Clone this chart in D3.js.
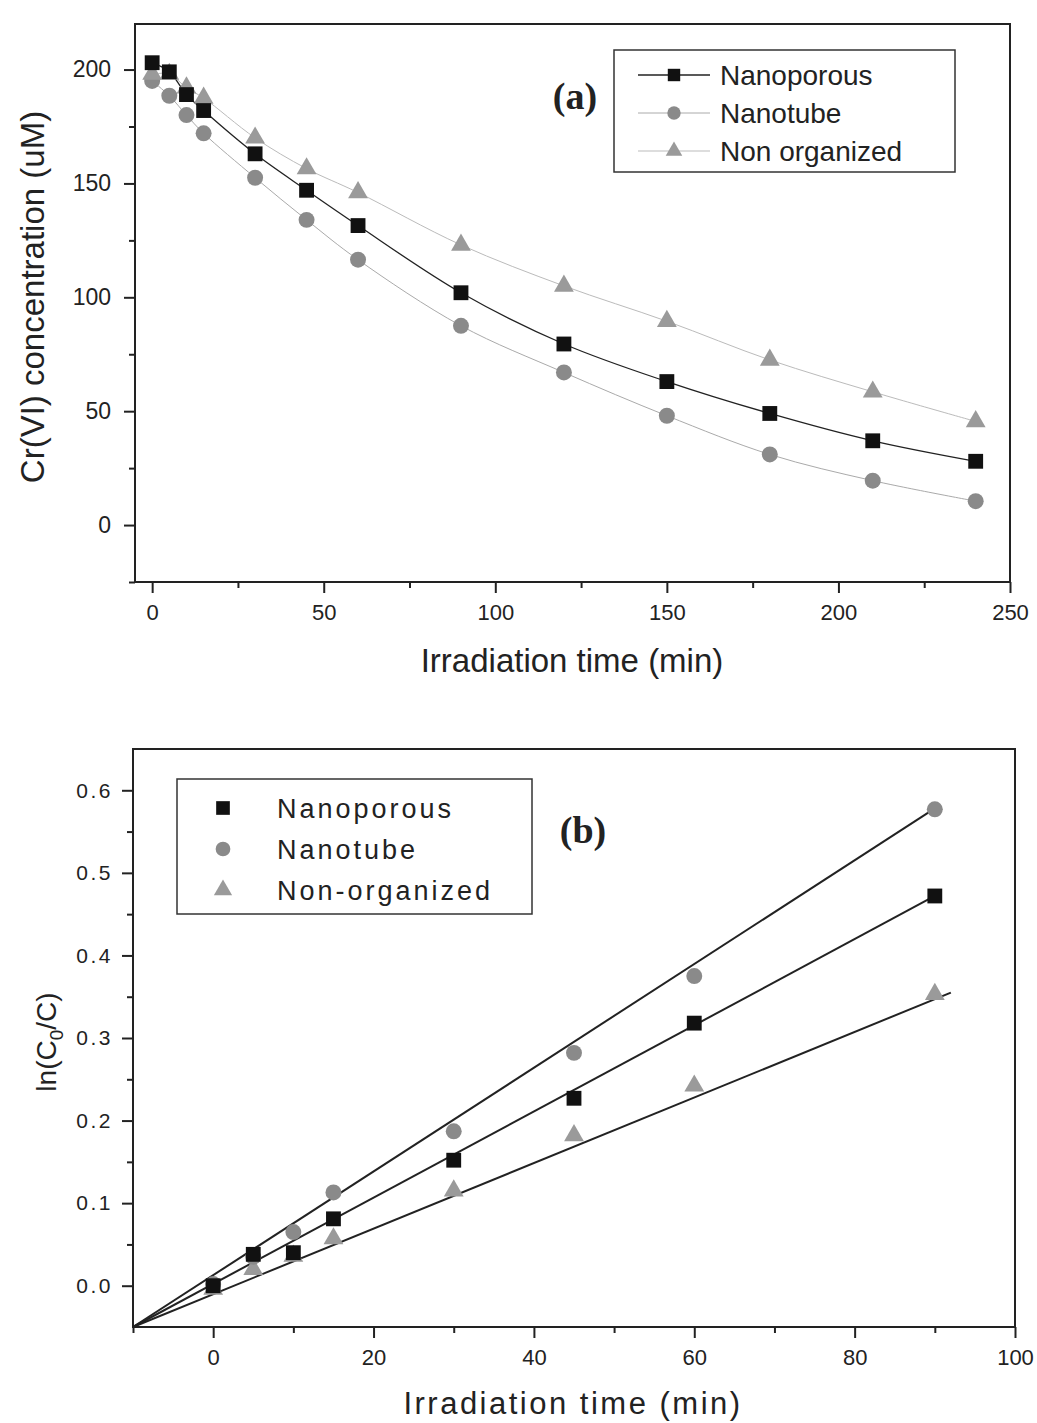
<!DOCTYPE html>
<html>
<head>
<meta charset="utf-8">
<script src="https://cdn.jsdelivr.net/npm/d3@7"></script>
<style>
  body { margin: 0; background: #fff; }
  svg { display: block; }
  .tick text { font-family: "Liberation Sans", Arial, sans-serif; }
</style>
</head>
<body>
<div id="chart"></div>
<script>
// Series names
const seriesNames = ["Nanoporous", "Nanotube", "Non organized"];
const seriesNamesB = ["Nanoporous", "Nanotube", "Non-organized"];

// Panel (a): Cr(VI) concentration vs time
const timeA = [0, 5, 10, 15, 30, 45, 60, 90, 120, 150, 180, 210, 240];
const nanoporousA = [203, 199, 189, 182, 163, 147, 131.5, 102, 79.5, 63, 49, 37, 28];
const nanotubeA = [195, 188.5, 180, 172, 152.5, 134, 116.5, 87.5, 67, 48, 31, 19.5, 10.5];
const nonOrganizedA = [198, 198, 192, 187.5, 170, 156.5, 146, 123, 105, 89.5, 72.5, 58.5, 45.5];

// Panel (b): ln(C0/C) vs time with linear fits
const timeB = [0, 5, 10, 15, 30, 45, 60, 90];
const nanoporousB = [0.0, 0.038, 0.04, 0.081, 0.152, 0.227, 0.318, 0.472];
const nanotubeB = [0.002, 0.035, 0.065, 0.113, 0.187, 0.282, 0.375, 0.577];
const nonOrganizedB = [-0.004, 0.02, 0.036, 0.057, 0.115, 0.182, 0.242, 0.353];
// fit line end points [x0, y0, x1, y1]
const fitNanoporous = [-10, -0.05, 90, 0.472];
const fitNanotube = [-10, -0.05, 90, 0.578];
const fitNonOrganized = [-10, -0.05, 92, 0.355];

// Tick values
const xTicksA = [0, 50, 100, 150, 200, 250];
const xMinorA = [25, 75, 125, 175, 225];
const yTicksA = [0, 50, 100, 150, 200];
const yMinorA = [-25, 25, 75, 125, 175];
const xTicksB = [0, 20, 40, 60, 80, 100];
const xMinorB = [-10, 10, 30, 50, 70, 90];
const yTicksB = [0, 0.1, 0.2, 0.3, 0.4, 0.5, 0.6];
const yMinorB = [0.05, 0.15, 0.25, 0.35, 0.45, 0.55];

const width = 1037;
const height = 1423;

const svg = d3.select("#chart")
  .append("svg")
  .attr("width", width)
  .attr("height", height);

const styles = [
  { symbol: d3.symbolSquare, size: 220, fill: "#111", line: "#222", lineWidth: 1.3 },
  { symbol: d3.symbolCircle, size: 200, fill: "#8a8a8a", line: "#aaa", lineWidth: 1 },
  { symbol: d3.symbolTriangle, size: 170, fill: "#9a9a9a", line: "#bbb", lineWidth: 1 },
];

// Draw the frame, ticks and labels of a panel
function drawAxes(g, x, y, opts) {
  const [x0, x1] = x.range();
  const [y0, y1] = y.range();

  g.append("rect")
    .attr("x", x0).attr("y", y1)
    .attr("width", x1 - x0).attr("height", y0 - y1)
    .attr("fill", "none").attr("stroke", "#222").attr("stroke-width", 2);

  const xAxis = g.append("g")
    .attr("transform", `translate(0,${y0})`)
    .call(d3.axisBottom(x).tickValues(opts.xTicks).tickSize(11).tickPadding(11).tickFormat(d3.format("d")));
  g.append("g")
    .attr("transform", `translate(0,${y0})`)
    .call(d3.axisBottom(x).tickValues(opts.xMinor).tickSize(6).tickFormat(""));

  const yAxis = g.append("g")
    .attr("transform", `translate(${x0},0)`)
    .call(d3.axisLeft(y).tickValues(opts.yTicks).tickSize(11).tickPadding(opts.yPad).tickFormat(opts.yFormat));
  g.append("g")
    .attr("transform", `translate(${x0},0)`)
    .call(d3.axisLeft(y).tickValues(opts.yMinor).tickSize(6).tickFormat(""));

  g.selectAll(".domain").remove();
  g.selectAll(".tick line").attr("stroke", "#222").attr("stroke-width", 2);

  xAxis.selectAll("text")
    .attr("font-size", opts.xFontSize)
    .attr("fill", "#222");
  yAxis.selectAll("text")
    .attr("font-size", opts.yFontSize)
    .attr("letter-spacing", opts.letterSpacing)
    .attr("fill", "#222");
}

// Draw markers for one series
function drawMarkers(g, x, y, xs, ys, st) {
  g.append("g")
    .selectAll("path")
    .data(xs.map((d, i) => [d, ys[i]]))
    .join("path")
    .attr("transform", (d) => `translate(${x(d[0])},${y(d[1])})`)
    .attr("d", d3.symbol().type(st.symbol).size(st.size))
    .attr("fill", st.fill);
}

// ---------- Panel (a) ----------
const xA = d3.scaleLinear().domain([-5, 250]).range([135, 1010]);
const yA = d3.scaleLinear().domain([-25, 220]).range([582, 24]);
const gA = svg.append("g");

drawAxes(gA, xA, yA, {
  xTicks: xTicksA, xMinor: xMinorA, yTicks: yTicksA, yMinor: yMinorA,
  yFormat: d3.format("d"), xFontSize: 22, yFontSize: 23, yPad: 13,
  letterSpacing: 0,
});

const seriesA = [nanoporousA, nanotubeA, nonOrganizedA];
const lineA = d3.line().x((d) => xA(d[0])).y((d) => yA(d[1])).curve(d3.curveCatmullRom);

// lines go under all markers, darker series last
[2, 1, 0].forEach((i) => {
  gA.append("path")
    .datum(timeA.map((t, k) => [t, seriesA[i][k]]))
    .attr("d", lineA)
    .attr("fill", "none")
    .attr("stroke", styles[i].line)
    .attr("stroke-width", styles[i].lineWidth);
});
drawMarkers(gA, xA, yA, timeA, nanotubeA, styles[1]);
drawMarkers(gA, xA, yA, timeA, nonOrganizedA, styles[2]);
drawMarkers(gA, xA, yA, timeA, nanoporousA, styles[0]);

// legend (a)
const legA = gA.append("g").attr("transform", "translate(614,50)");
legA.append("rect")
  .attr("width", 341).attr("height", 122)
  .attr("fill", "#fff").attr("stroke", "#333").attr("stroke-width", 1.5);
seriesNames.forEach((name, i) => {
  const yy = 25 + i * 38;
  legA.append("line")
    .attr("x1", 24).attr("x2", 96).attr("y1", yy).attr("y2", yy)
    .attr("stroke", styles[i].line).attr("stroke-width", styles[i].lineWidth);
  legA.append("path")
    .attr("transform", `translate(60,${yy})`)
    .attr("d", d3.symbol().type(styles[i].symbol).size(styles[i].size * 0.7))
    .attr("fill", styles[i].fill);
  legA.append("text")
    .attr("x", 106).attr("y", yy + 10)
    .attr("font-family", "'Liberation Sans', Arial, sans-serif")
    .attr("font-size", 28).attr("fill", "#222")
    .text(name);
});

gA.append("text")
  .attr("x", 575).attr("y", 109)
  .attr("text-anchor", "middle")
  .attr("font-family", "'Liberation Serif', 'Times New Roman', serif")
  .attr("font-weight", "bold").attr("font-size", 38).attr("fill", "#222")
  .text("(a)");

gA.append("text")
  .attr("x", 572).attr("y", 672)
  .attr("text-anchor", "middle")
  .attr("font-family", "'Liberation Sans', Arial, sans-serif")
  .attr("font-size", 33).attr("fill", "#222")
  .text("Irradiation time (min)");

gA.append("text")
  .attr("transform", "translate(44,297) rotate(-90)")
  .attr("text-anchor", "middle")
  .attr("font-family", "'Liberation Sans', Arial, sans-serif")
  .attr("font-size", 33).attr("fill", "#222")
  .text("Cr(VI) concentration (uM)");

// ---------- Panel (b) ----------
const xB = d3.scaleLinear().domain([-10, 100]).range([133, 1015]);
const yB = d3.scaleLinear().domain([-0.05, 0.65]).range([1327, 749]);
const gB = svg.append("g");

drawAxes(gB, xB, yB, {
  xTicks: xTicksB, xMinor: xMinorB, yTicks: yTicksB, yMinor: yMinorB,
  yFormat: d3.format(".1f"), xFontSize: 22, yFontSize: 21, yPad: 9,
  letterSpacing: 2.5,
});

const fits = [fitNanoporous, fitNanotube, fitNonOrganized];
fits.forEach((f) => {
  gB.append("line")
    .attr("x1", xB(f[0])).attr("y1", yB(f[1]))
    .attr("x2", xB(f[2])).attr("y2", yB(f[3]))
    .attr("stroke", "#222").attr("stroke-width", 2);
});
drawMarkers(gB, xB, yB, timeB, nonOrganizedB, styles[2]);
drawMarkers(gB, xB, yB, timeB, nanotubeB, styles[1]);
drawMarkers(gB, xB, yB, timeB, nanoporousB, styles[0]);

// legend (b)
const legB = gB.append("g").attr("transform", "translate(177,779)");
legB.append("rect")
  .attr("width", 355).attr("height", 135)
  .attr("fill", "#fff").attr("stroke", "#333").attr("stroke-width", 1.5);
seriesNamesB.forEach((name, i) => {
  const yy = 29 + i * 41;
  legB.append("path")
    .attr("transform", `translate(46,${yy})`)
    .attr("d", d3.symbol().type(styles[i].symbol).size(styles[i].size * 0.85))
    .attr("fill", styles[i].fill);
  legB.append("text")
    .attr("x", 100).attr("y", yy + 10)
    .attr("font-family", "'Liberation Sans', Arial, sans-serif")
    .attr("letter-spacing", 3)
    .attr("font-size", 27).attr("fill", "#222")
    .text(name);
});

gB.append("text")
  .attr("x", 583).attr("y", 843)
  .attr("text-anchor", "middle")
  .attr("font-family", "'Liberation Serif', 'Times New Roman', serif")
  .attr("font-weight", "bold").attr("font-size", 38).attr("fill", "#222")
  .text("(b)");

gB.append("text")
  .attr("x", 573).attr("y", 1414)
  .attr("text-anchor", "middle")
  .attr("font-family", "'Liberation Sans', Arial, sans-serif")
  .attr("letter-spacing", 2.5)
  .attr("font-size", 31).attr("fill", "#222")
  .text("Irradiation time (min)");

const yTitleB = gB.append("text")
  .attr("transform", "translate(56,1042) rotate(-90)")
  .attr("text-anchor", "middle")
  .attr("font-family", "'Liberation Sans', Arial, sans-serif")
  .attr("font-size", 28).attr("fill", "#222");
yTitleB.append("tspan").text("ln(C");
yTitleB.append("tspan").attr("font-size", 19).attr("dy", 7).text("0");
yTitleB.append("tspan").attr("dy", -7).text("/C)");
</script>
</body>
</html>
